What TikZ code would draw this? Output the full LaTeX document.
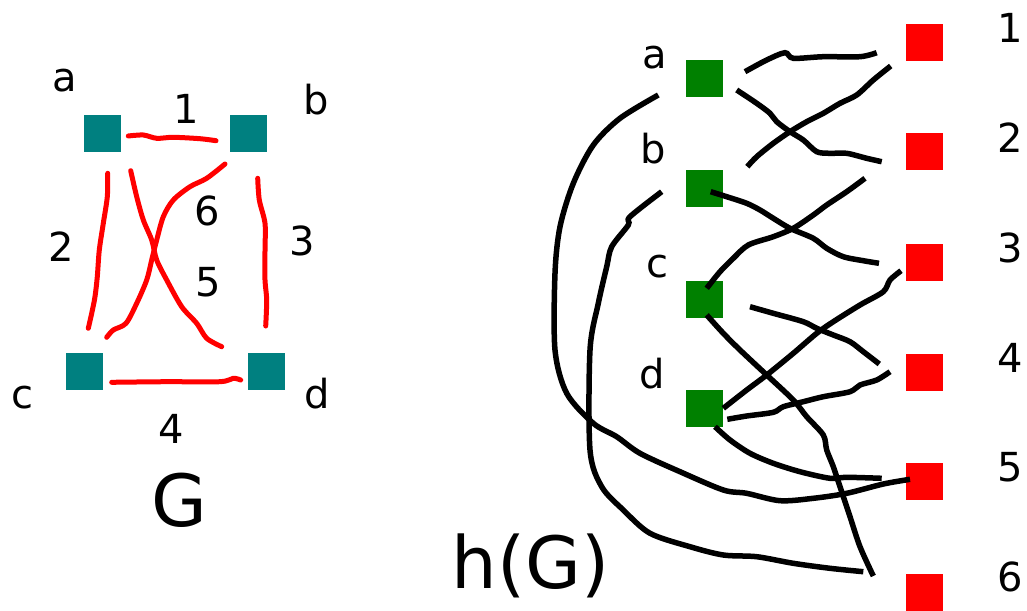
\documentclass[tikz,border=0pt]{standalone}
\usepackage{fontspec}
\setmainfont{DejaVu Sans}
\usepackage{tikz}
\usetikzlibrary{positioning}
\definecolor{vteal}{RGB}{0,128,128}
\definecolor{vgreen}{RGB}{0,128,0}
\definecolor{vred}{RGB}{255,0,0}

\begin{document}
\begin{tikzpicture}[x=1pt,y=-1pt,
    every node/.style={inner sep=0pt},
    gvert/.style={fill=vteal,minimum size=37pt},
    avert/.style={fill=vgreen,minimum size=37pt},
    evert/.style={fill=vred,minimum size=37pt},
    lbl/.style={anchor=base,font=\fontsize{40}{48}\selectfont},
    big/.style={anchor=base,font=\fontsize{72}{86}\selectfont},
    gedge/.style={draw=vred,line width=5pt,line cap=round},
    hedge/.style={draw=black,line width=5.5pt}]
  \useasboundingbox (0,0) rectangle (1027,610);
  % graph G
  \node[gvert] (a) at (102.5,133.5) {};
  \node[gvert,right=109pt of a] (b) {};
  \node[gvert] (c) at (84.5,371.5) {};
  \node[gvert,right=145pt of c] (d) {};
  \node[lbl] (la) at (65,91.7) {a};
  \node[lbl] (lb) at (316,114) {b};
  \node[lbl] (lc) at (22,408.3) {c};
  \node[lbl] (ld) at (317,408.3) {d};
  \node[lbl] (l1) at (186,123.3) {1};
  \node[lbl] (l2) at (61,261.7) {2};
  \node[lbl] (l3) at (302,255) {3};
  \node[lbl] (l4) at (171,443.3) {4};
  \node[lbl] (l5) at (208,296.7) {5};
  \node[lbl] (l6) at (207,225) {6};
  \node[big] (lG) at (179,526.7) {G};
  \draw[gedge] plot[smooth] coordinates {(128.3,136) (143.3,135) (156.7,138.3) (173.3,137.3) (200,138.7) (216,140.7)};
  \draw[gedge] plot[smooth] coordinates {(107.7,173.3) (107.3,196.7) (103.3,223.3) (99.3,250) (97.3,276.7) (95,296.7) (91.7,313.3) (88.3,328.3)};
  \draw[gedge] plot[smooth] coordinates {(257.7,178.3) (259.3,200) (265,223.3) (265,250) (265,280) (266.7,300) (265.7,326)};
  \draw[gedge] plot[smooth] coordinates {(111.7,382.3) (166.7,381.7) (220,381.7) (233.3,378.3) (240.7,380)};
  \draw[gedge] plot[smooth] coordinates {(130.7,170.7) (136.7,196.7) (143.3,220) (151.7,240) (156.7,260) (166.7,280) (181.7,306.7) (196.7,323.3) (206.7,338.3) (221.7,346.7)};
  \draw[gedge] plot[smooth] coordinates {(225,164) (206.7,178.3) (190,186.7) (173.3,200) (163.3,216.7) (156.7,240) (151.7,260) (146.7,280) (136.7,303.3) (126,323.3) (113.3,330) (106.7,337.3)};
  % incidence graph h(G)
  \node[avert] (ha) at (704.5,78.3) {};
  \node[avert,below=73pt of ha] (hb) {};
  \node[avert,below=73pt of hb] (hc) {};
  \node[avert,below=72pt of hc] (hd) {};
  \node[evert] (e1) at (924.5,42.3) {};
  \node[evert,below=72pt of e1] (e2) {};
  \node[evert,below=73pt of e2] (e3) {};
  \node[evert,below=73pt of e3] (e4) {};
  \node[evert,below=72pt of e4] (e5) {};
  \node[evert,below=73pt of e5] (e6) {};
  \node[lbl] (lha) at (655,68) {a};
  \node[lbl] (lhb) at (653,163) {b};
  \node[lbl] (lhc) at (657,277) {c};
  \node[lbl] (lhd) at (652,388) {d};
  \foreach \i/\y in {1/43,2/152,3/262,4/372,5/481,6/591}
    \node[lbl] (le\i) at (1010,\y) {\i};
  \node[big] (lhG) at (530.5,588) {h(G)};
  \draw[hedge] plot[smooth] coordinates {(745,71.7) (766.7,60) (785,52.7) (793.3,58.3) (823.3,56.7) (860,56.7) (876.7,52.7)};
  \draw[hedge] plot[smooth] coordinates {(736.7,90) (756.7,103.3) (770,113.3) (776.7,121.7) (790,131.7) (803.3,140) (816.7,151.7) (830,153.3) (846.7,153.3) (866.7,158.3) (881.7,161.7)};
  \draw[hedge] plot[smooth] coordinates {(890.7,66) (873.3,80) (856.7,95) (840,103.3) (823.3,113.3) (806.7,121.7) (790,131.7) (773.3,143.3) (756.7,156.7) (747.3,166.7)};
  \draw[hedge] plot[smooth] coordinates {(710.7,191.7) (726.7,196.7) (746.7,203.3) (760,210) (773.3,218.3) (790,228.3) (813.3,238.3) (826.7,248.3) (843.3,256.7) (863.3,260.7) (879,263.3)};
  \draw[hedge] plot[smooth] coordinates {(865,178.3) (846.7,191.7) (826.7,205) (813.3,215) (793.3,228.3) (773.3,236.7) (748.3,245) (733.3,258.3) (720,271.7) (706.7,288.3)};
  \draw[hedge] plot[smooth] coordinates {(750,306.7) (773.3,313.3) (803.3,321.7) (816.7,328.3) (833.3,335) (850,341.7) (863.3,351.7) (879.3,364)};
  \draw[hedge] plot[smooth] coordinates {(901,270.7) (890,280) (883.3,291.7) (860,305) (833.3,321.7) (816.7,333.3) (793.3,353.3) (766.7,375) (746.7,390) (723.3,408.3)};
  \draw[hedge] plot[smooth] coordinates {(727.3,419.3) (746.7,416) (773.3,412.3) (783.3,406.7) (803.3,401.7) (823.3,396.7) (850,391.7) (860,385) (876.7,380) (890,371.7)};
  \draw[hedge] plot[smooth] coordinates {(715,426.7) (730,440) (750,453.3) (773.3,463.3) (800,471.7) (830,478.3) (846.7,477.3) (881.7,478.3)};
  \draw[hedge] plot[smooth] coordinates {(706.7,315) (723.3,333.3) (740,350) (766.7,375) (793.3,400) (806.7,416.7) (823.3,435) (826.7,450) (833.3,466.7) (840,486.7) (850,516.7) (860,546.7) (873.3,576)};
  \draw[hedge] plot[smooth] coordinates {(658.3,95) (620,118.3) (593.3,145) (573.3,183.3) (560,226.7) (555,273.3) (555,350) (566.7,393.3) (593.3,423.3) (616.7,436.7) (640,453.3) (680,471.7) (723.3,490) (746.7,493.3) (780,500.7) (813.3,498.3) (846.7,493.3) (883.3,484) (910,479.3)};
  \draw[hedge] plot[smooth] coordinates {(661.7,191.7) (630,216.7) (628.3,225) (611.7,246.7) (606.7,266.7) (598.3,303.3) (590,350) (590,450) (601.7,486.7) (623.3,510) (650,533.3) (690,546.7) (723.3,555) (756.7,556.7) (793.3,563.3) (830,568.3) (863.3,571.7)};
\end{tikzpicture}
\end{document}
